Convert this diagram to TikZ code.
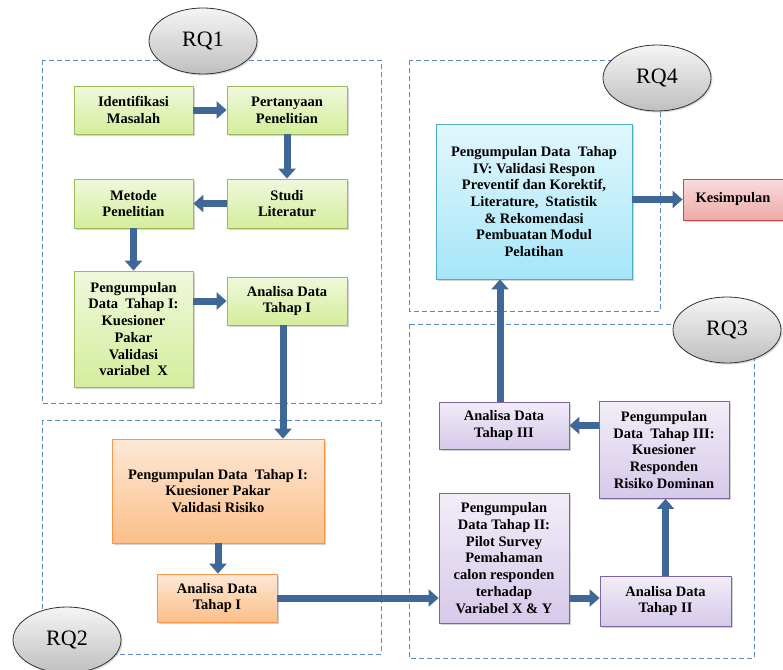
\documentclass[tikz,border=0pt]{standalone}
\usepackage{fontspec}
\setmainfont{Liberation Serif}
\usetikzlibrary{arrows.meta,positioning,shapes.geometric,shadows}

\definecolor{dashblue}{HTML}{5B8BC9}
\definecolor{arrblue}{HTML}{3F6899}
\definecolor{grnline}{HTML}{9BBB59}
\definecolor{bluline}{HTML}{4BACC6}
\definecolor{orgline}{HTML}{F79646}
\definecolor{prpline}{HTML}{8064A2}
\definecolor{redline}{HTML}{C0504D}

\begin{document}
\begin{tikzpicture}[
  x=1pt, y=-1pt,
  every node/.style={align=center},
  box/.style={draw, line width=0.8pt, inner sep=2pt,
              font=\bfseries\fontsize{14.5}{16.7}\selectfont,
              drop shadow={shadow xshift=1.5pt, shadow yshift=-1.5pt, opacity=0.35}},
  grn/.style={box, draw=grnline, top color={rgb,255:red,240;green,248;blue,221}, bottom color={rgb,255:red,212;green,237;blue,155}},
  blu/.style={box, draw=bluline, top color={rgb,255:red,226;green,247;blue,253}, bottom color={rgb,255:red,166;green,230;blue,248}},
  org/.style={box, draw=orgline, top color={rgb,255:red,253;green,232;blue,214}, bottom color={rgb,255:red,251;green,191;blue,137}},
  prp/.style={box, draw=prpline, top color={rgb,255:red,242;green,237;blue,248}, bottom color={rgb,255:red,214;green,201;blue,234}},
  rd/.style={box, draw=redline, top color={rgb,255:red,248;green,220;blue,220}, bottom color={rgb,255:red,240;green,169;blue,169}},
  rq/.style={ellipse, draw=black!80, line width=0.8pt, minimum width=108pt, minimum height=66pt,
             top color=black!4, bottom color=black!25, font=\fontsize{22}{26}\selectfont,
             drop shadow={shadow xshift=1.5pt, shadow yshift=-1.5pt, opacity=0.3}},
  area/.style={draw=dashblue, line width=0.9pt, dash pattern=on 5pt off 3pt},
  arr/.style={-{Triangle[width=17pt,length=10pt]}, arrblue, line width=7pt},
]
\useasboundingbox (0,0) rectangle (783,669);

%% --- Dashed research areas ---
\draw[area] (42,60) rectangle (381,403);
\draw[area] (42,420) rectangle (381,654);
\draw[area] (409,324) rectangle (754,658);
\draw[area] (409,60) rectangle (660,311);

%% --- Labels RQ1--RQ4 ---
\node[rq] (rq1) at (203,41) {RQ1};
\node[rq] (rq4) at (657,78) {RQ4};
\node[rq] (rq3) at (727,330) {RQ3};
\node[rq] (rq2) at (67,640) {RQ2};

%% --- RQ1: green steps ---
\node[grn, minimum width=119pt, minimum height=48pt] (ident)   at (133.5,110) {Identifikasi\\Masalah};
\node[grn, minimum width=120pt, minimum height=48pt] (tanya)   at (287,110)   {Pertanyaan\\Penelitian};
\node[grn, minimum width=120pt, minimum height=49pt] (studi)   at (287,203.5) {Studi\\Literatur};
\node[grn, minimum width=119pt, minimum height=49pt] (metode)  at (133.5,203.5) {Metode\\Penelitian};
\node[grn, minimum width=119pt, minimum height=116pt] (kumpulA) at (133.5,329) {Pengumpulan\\Data\ \ Tahap I:\\Kuesioner\\Pakar\\Validasi\\variabel\ \ X};
\node[grn, minimum width=120pt, minimum height=48pt] (anaA)    at (287,301)   {Analisa Data\\Tahap I};

%% --- RQ2: orange steps ---
\node[org, minimum width=212pt, minimum height=104pt] (kumpulB) at (218,491) {Pengumpulan Data\ \ Tahap I:\\Kuesioner\ Pakar\\Validasi Risiko};
\node[org, minimum width=120pt, minimum height=48pt]  (anaB)    at (217,598) {Analisa Data\\Tahap I};

%% --- RQ3: purple steps ---
\node[prp, minimum width=130pt, minimum height=130pt] (kumpulC) at (504,558) {Pengumpulan\\Data Tahap II:\\Pilot Survey\\Pemahaman\\calon responden\\terhadap\\Variabel X \& Y};
\node[prp, minimum width=131pt, minimum height=50pt]  (anaC)    at (665.5,601) {Analisa Data\\Tahap II};
\node[prp, minimum width=130pt, minimum height=97pt]  (kumpulD) at (664,450) {Pengumpulan\\Data\ \ Tahap III:\\Kuesioner\\Responden\\Risiko Dominan};
\node[prp, minimum width=130pt, minimum height=47pt]  (anaD)    at (504,425.5) {Analisa Data\\Tahap III};

%% --- RQ4: final steps ---
\node[blu, minimum width=196pt, minimum height=155pt] (kumpulE) at (534,201.5) {Pengumpulan Data\ \ Tahap\\IV: Validasi Respon\\Preventif dan Korektif,\\Literature,\ \ Statistik\\\& Rekomendasi\\Pembuatan Modul\\Pelatihan};
\node[rd, minimum width=100pt, minimum height=41pt] (simpul) at (733,199.5) {Kesimpulan};

%% --- Arrows ---
\draw[arr] (ident.east) -- (tanya.west);
\draw[arr] (tanya.south) -- (studi.north);
\draw[arr] (studi.west) -- (metode.east);
\draw[arr] (metode.south) -- (kumpulA.north);
\draw[arr] (kumpulA.east |- anaA) -- (anaA.west);
\draw[arr] ([xshift=-4pt]anaA.south) -- ([xshift=-4pt]anaA.south |- kumpulB.north);
\draw[arr] (kumpulB.south) -- (kumpulB.south |- anaB.north);
\draw[arr] (anaB.east) -- (anaB.east -| kumpulC.west);
\draw[arr] (kumpulC.east |- anaB) -- (anaC.west |- anaB);
\draw[arr] (anaC.north) -- (anaC.north |- kumpulD.south);
\draw[arr] (kumpulD.west |- anaD) -- (anaD.east);
\draw[arr] ([xshift=-4pt]anaD.north) -- ([xshift=-4pt]anaD.north |- kumpulE.south);
\draw[arr] (kumpulE.east |- simpul) -- (simpul.west);

\end{tikzpicture}
\end{document}
